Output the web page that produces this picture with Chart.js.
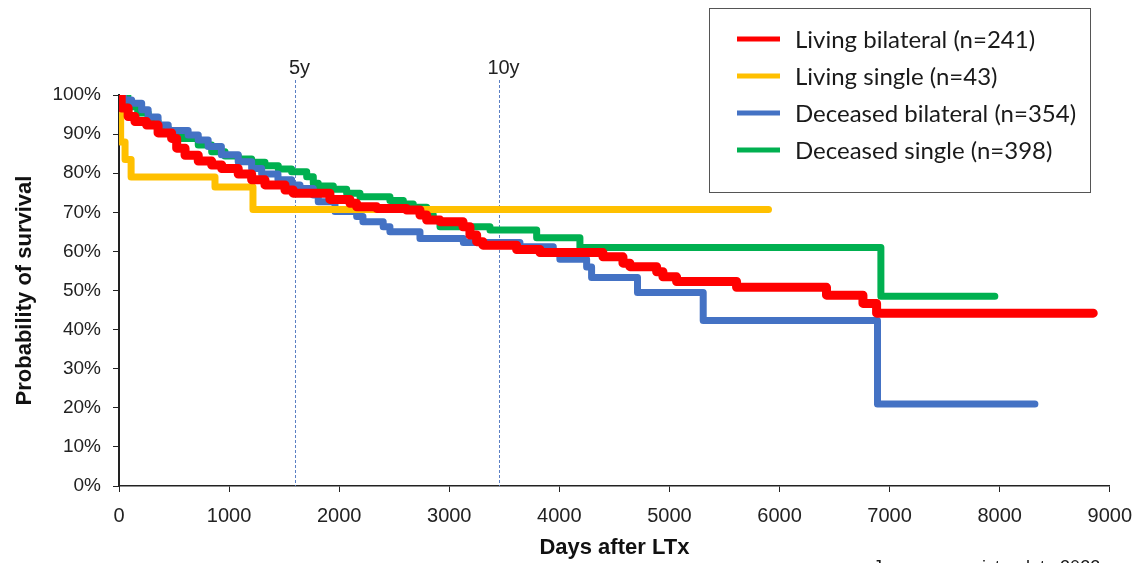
<!DOCTYPE html>
<html>
<head>
<meta charset="utf-8">
<script src="https://cdn.jsdelivr.net/npm/chart.js@4"></script>
<style>
  html, body { margin: 0; padding: 0; background: #fff; }
  #wrap { width: 1144px; height: 563px; position: relative; }
</style>
</head>
<body>
<div id="wrap"><canvas id="survivalChart" width="1144" height="563"></canvas></div>
<script>
'use strict';
// Kaplan-Meier style curves (days, % surviving)
var livingBilateralDays = [0, 20, 83, 145, 251, 355, 478, 524, 600, 720, 842, 933, 1083, 1205, 1326, 1508, 1582, 1916, 2098, 2159, 2341, 2613, 2734, 2795, 2916, 3125, 3188, 3249, 3306, 3612, 3824, 4396, 4578, 4641, 4884, 4941, 5065, 5610, 6427, 6758, 6882, 8850];
var livingBilateralSurv = [100, 96.7, 94.5, 93.2, 92.3, 90.3, 88.9, 86.4, 84.6, 83.1, 82.1, 81.2, 79.8, 78.3, 77, 75.7, 74.9, 73.3, 72.3, 71.4, 71, 70.6, 69.3, 68, 67.6, 66.3, 64.2, 62.5, 61.6, 60.5, 59.7, 58.6, 57, 56.1, 54.8, 53.5, 52.3, 50.8, 48.8, 46.7, 44.2, 44.2];

var livingSingleDays = [0, 15, 55, 110, 872, 1217, 5900];
var livingSingleSurv = [97, 88, 83.5, 79, 76.5, 70.7, 70.7];

var deceasedBilateralDays = [0, 40, 115, 206, 265, 355, 447, 628, 720, 810, 930, 1083, 1205, 1296, 1444, 1568, 1644, 1765, 1810, 1962, 2159, 2216, 2400, 2461, 2734, 3128, 3642, 3945, 4005, 4248, 4293, 4710, 5307, 6890, 8320];
var deceasedBilateralSurv = [100, 98.7, 97.9, 96.2, 94.4, 92.3, 90.9, 89.8, 88.5, 86.8, 84.7, 82.9, 81.2, 79.8, 78.3, 77, 76.1, 74.4, 72.7, 70.2, 68.9, 67.6, 66.3, 65, 63.3, 62.3, 61.2, 59.5, 58, 56, 53.3, 49.5, 42.3, 21, 21];

var deceasedSingleDays = [0, 80, 170, 265, 355, 448, 570, 720, 842, 963, 1084, 1205, 1326, 1447, 1568, 1705, 1765, 1810, 1947, 2068, 2189, 2461, 2583, 2673, 2795, 2855, 2916, 3370, 3794, 4187, 6921, 7956];
var deceasedSingleSurv = [100, 97, 95.4, 93.2, 91.5, 90.2, 88.9, 87.2, 85.5, 84.4, 83.6, 82.8, 81.9, 81.1, 80.4, 79.1, 77.4, 76.7, 75.9, 74.9, 74, 73, 72.1, 71.3, 69.3, 68, 66.3, 65.5, 63.5, 61, 48.5, 48.5];

var seriesNames = ['Living bilateral (n=241)', 'Living single (n=43)', 'Deceased bilateral (n=354)', 'Deceased single (n=398)'];
var seriesColors = ['#FF0000', '#FFC000', '#4472C4', '#00B050'];

var markerDays = [1600, 3450];
var markerLabels = ['5y', '10y'];

var xTicks = [0, 1000, 2000, 3000, 4000, 5000, 6000, 7000, 8000, 9000];
var yTicks = [0, 10, 20, 30, 40, 50, 60, 70, 80, 90, 100];

var sourceNote = 'Japanese registry data 2022';

function toPoints(days, surv){
  var pts = [];
  for (var i = 0; i < days.length; i++){
    pts.push({x: days[i], y: surv[i]});
  }
  return pts;
}

var allDays = [livingBilateralDays, livingSingleDays, deceasedBilateralDays, deceasedSingleDays];
var allSurv = [livingBilateralSurv, livingSingleSurv, deceasedBilateralSurv, deceasedSingleSurv];
var widths = [9, 7, 7, 7];

var datasets = [];
for (var i = 0; i < seriesNames.length; i++){
  datasets.push({
    label: seriesNames[i],
    data: toPoints(allDays[i], allSurv[i]),
    borderColor: seriesColors[i],
    backgroundColor: seriesColors[i],
    borderWidth: widths[i],
    borderCapStyle: 'round',
    borderJoinStyle: 'round',
    stepped: true,
    pointRadius: 0,
    fill: false
  });
}

// 5y / 10y dashed markers
var markerPlugin = {
  id: 'markers',
  beforeDatasetsDraw: function(chart){
    var ctx = chart.ctx;
    var xs = chart.scales.x;
    var area = chart.chartArea;
    ctx.save();
    ctx.strokeStyle = '#5b80c4';
    ctx.lineWidth = 1;
    ctx.setLineDash([3, 2]);
    ctx.font = '20px "Liberation Sans"';
    ctx.fillStyle = '#222';
    ctx.textAlign = 'center';
    ctx.textBaseline = 'middle';
    for (var i = 0; i < markerDays.length; i++){
      var px = Math.round(xs.getPixelForValue(markerDays[i])) + 0.5;
      ctx.beginPath();
      ctx.moveTo(px, 80);
      ctx.lineTo(px, area.bottom);
      ctx.stroke();
      ctx.fillText(markerLabels[i], px + 4, 68);
    }
    ctx.restore();
  }
};

// boxed legend and the clipped source line
var legendPlugin = {
  id: 'boxLegend',
  afterDraw: function(chart){
    var ctx = chart.ctx;
    ctx.save();
    ctx.strokeStyle = '#555';
    ctx.lineWidth = 1;
    ctx.strokeRect(709.5, 8.5, 381, 184);
    ctx.font = '24px Lato';
    ctx.fillStyle = '#1a1a1a';
    ctx.textBaseline = 'middle';
    ctx.textAlign = 'left';
    var rows = [39, 76, 113, 150];
    for (var i = 0; i < seriesNames.length; i++){
      ctx.fillStyle = seriesColors[i];
      ctx.fillRect(737, rows[i] - 2.5, 43, 5);
      ctx.fillStyle = '#1a1a1a';
      ctx.fillText(seriesNames[i], 795, rows[i] + 1);
    }
    ctx.font = '18px "Liberation Sans"';
    ctx.textBaseline = 'top';
    ctx.fillText(sourceNote, 873, 559);
    ctx.restore();
  }
};

var ctx = document.getElementById('survivalChart').getContext('2d');
var chart = new Chart(ctx, {
  type: 'line',
  data: { datasets: datasets },
  options: {
    responsive: false,
    animation: false,
    devicePixelRatio: 1,
    layout: { padding: { top: 95, right: 34, left: 0, bottom: 0 } },
    plugins: {
      legend: { display: false },
      tooltip: { enabled: false }
    },
    scales: {
      x: {
        type: 'linear',
        min: 0,
        max: 9000,
        afterBuildTicks: function(scale){
          scale.ticks = xTicks.map(function(v){ return {value: v}; });
        },
        afterFit: function(scale){ scale.height = 77; },
        grid: { drawOnChartArea: false, drawTicks: true, tickLength: 6, color: '#222' },
        border: { color: '#222', width: 1.5 },
        ticks: {
          color: '#222',
          font: { family: '"Liberation Sans"', size: 20 },
          padding: 12,
          maxRotation: 0,
          autoSkip: false,
          callback: function(v){ return String(v); }
        },
        title: {
          display: true,
          text: 'Days after LTx',
          color: '#111',
          font: { family: '"Liberation Sans"', size: 22, weight: 'bold' },
          padding: { top: 0, bottom: 2 }
        }
      },
      y: {
        type: 'linear',
        min: 0,
        max: 100,
        afterBuildTicks: function(scale){
          scale.ticks = yTicks.map(function(v){ return {value: v}; });
        },
        afterFit: function(scale){ scale.width = 119; },
        grid: { drawOnChartArea: false, drawTicks: true, tickLength: 6, color: '#222' },
        border: { color: '#222', width: 2 },
        ticks: {
          color: '#222',
          font: { family: '"Liberation Sans"', size: 19 },
          padding: 12,
          autoSkip: false,
          callback: function(v){ return v + '%'; }
        },
        title: {
          display: true,
          text: 'Probability of survival',
          color: '#111',
          font: { family: '"Liberation Sans"', size: 22, weight: 'bold' },
          padding: { top: 12, bottom: 0 }
        }
      }
    }
  },
  plugins: [markerPlugin, legendPlugin]
});
</script>
</body>
</html>
